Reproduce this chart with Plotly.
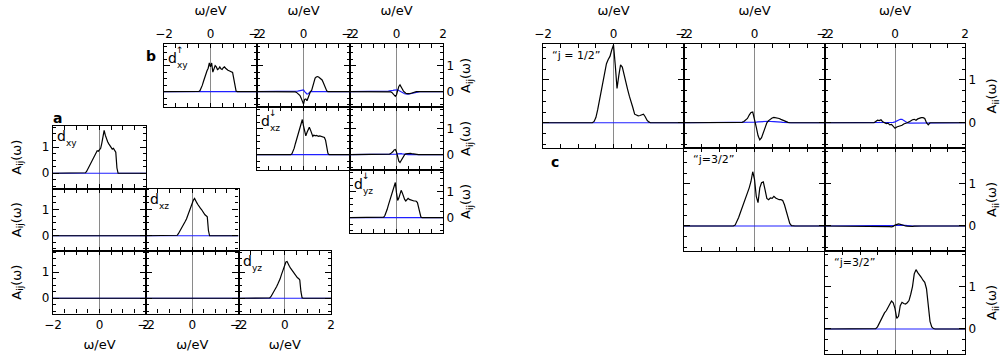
import plotly.graph_objects as go

# ---------------- data ----------------
OMEGA = [-2.0, -1.0, -0.8, -0.75, -0.7,
         -0.65, -0.6, -0.55, -0.5, -0.45,
         -0.4, -0.35, -0.3, -0.25, -0.2,
         -0.15, -0.1, -0.05, 0.0, 0.05,
         0.1, 0.15, 0.2, 0.25, 0.3,
         0.35, 0.4, 0.45, 0.5, 0.55,
         0.6, 0.65, 0.7, 0.75, 0.8,
         0.85, 0.9, 0.95, 1.0, 1.05,
         1.1, 1.15, 1.2, 1.5, 2.0]

ZERO = [0, 0, 0, 0, 0,
        0, 0, 0, 0, 0,
        0, 0, 0, 0, 0,
        0, 0, 0, 0, 0,
        0, 0, 0, 0, 0,
        0, 0, 0, 0, 0,
        0, 0, 0, 0, 0,
        0, 0, 0, 0, 0,
        0, 0, 0, 0, 0]

# panel a (t2g basis, no SOC)
A_DXY = [0, 0, 0, 0, 0,
         0.0, 0.02, 0.08, 0.17, 0.26,
         0.35, 0.44, 0.52, 0.60, 0.68,
         0.78, 0.86, 0.84, 0.92, 0.95,
         1.15, 1.40, 1.63, 1.45, 1.30,
         1.20, 1.12, 1.05, 0.98, 0.92,
         0.95, 0.85, 0.80, 0.20, 0.0,
         0, 0, 0, 0, 0,
         0, 0, 0, 0, 0]
A_DXZ = [0, 0, 0, 0, 0,
         0.02, 0.08, 0.15, 0.22, 0.30,
         0.38, 0.46, 0.55, 0.64, 0.76,
         0.90, 1.05, 1.20, 1.30, 1.36,
         1.42, 1.30, 1.25, 1.18, 1.10,
         1.05, 1.00, 0.92, 0.85, 0.80,
         0.76, 0.72, 0.20, 0.0, 0.0,
         0, 0, 0, 0, 0,
         0, 0, 0, 0, 0]
A_DYZ = [0, 0, 0, 0, 0,
         0.01, 0.06, 0.13, 0.21, 0.29,
         0.37, 0.45, 0.54, 0.63, 0.74,
         0.88, 1.02, 1.18, 1.25, 1.38,
         1.40, 1.28, 1.22, 1.15, 1.08,
         1.03, 0.98, 0.90, 0.84, 0.78,
         0.75, 0.70, 0.25, 0.02, 0.0,
         0, 0, 0, 0, 0,
         0, 0, 0, 0, 0]

# panel b (spin-resolved t2g basis)
B_11 = [0, 0, 0, 0, 0,
        0, 0, 0, 0.01, 0.04,
        0.12, 0.25, 0.40, 0.55, 0.68,
        0.80, 0.90, 1.10, 0.95, 1.10,
        0.75, 0.90, 1.00, 0.95, 0.85,
        0.88, 0.95, 0.88, 0.85, 0.92,
        0.95, 0.90, 0.85, 0.82, 0.80,
        0.78, 0.75, 0.74, 0.50, 0.15,
        0.02, 0, 0, 0, 0]
B_12 = [0, 0, 0, 0, 0,
        0, 0, 0, 0, 0,
        0.0, -0.01, -0.03, -0.06, -0.10,
        -0.15, -0.25, -0.38, -0.48, -0.30,
        -0.28, -0.35, -0.20, -0.08, 0.0,
        0.05, 0.20, 0.40, 0.52, 0.56,
        0.58, 0.56, 0.53, 0.50, 0.45,
        0.35, 0.22, 0.10, 0.03, 0.0,
        0, 0, 0, 0, 0]
B_12_IM = [0, 0, 0, 0, 0,
           0, 0, 0, 0, 0,
           0.0, 0.0, 0.01, 0.02, 0.03,
           0.04, 0.06, 0.08, 0.07, 0.0,
           -0.06, -0.09, -0.08, -0.03, 0.0,
           0, 0, 0, 0, 0,
           0, 0, 0, 0, 0,
           0, 0, 0, 0, 0,
           0, 0, 0, 0, 0]
B_13 = [0, 0, 0, 0, 0,
        0, 0, 0, 0, 0,
        0, 0, 0, -0.01, -0.03,
        -0.08, -0.15, -0.18, -0.12, 0.05,
        0.20, 0.26, 0.20, 0.10, 0.02,
        -0.03, -0.06, -0.08, -0.09, -0.08,
        -0.07, -0.05, -0.03, -0.02, -0.01,
        0, 0, 0, 0, 0,
        0, 0, 0, 0, 0]
B_13_IM = [0, 0, 0, 0, 0,
           0.0, 0.01, 0.01, 0.01, 0.02,
           0.02, 0.02, 0.03, 0.03, 0.04,
           0.05, 0.06, 0.07, 0.08, 0.07,
           0.04, 0.01, -0.02, -0.04, -0.06,
           -0.08, -0.09, -0.10, -0.10, -0.09,
           -0.08, -0.06, -0.04, -0.03, -0.02,
           -0.01, 0, 0, 0, 0,
           0, 0, 0, 0, 0]
B_22 = [0, 0, 0, 0, 0,
        0, 0, 0, 0.03, 0.12,
        0.25, 0.42, 0.58, 0.72, 0.85,
        0.98, 1.15, 1.35, 1.10, 0.90,
        0.72, 0.85, 0.98, 1.05, 0.95,
        0.80, 0.70, 0.75, 0.72, 0.74,
        0.72, 0.70, 0.72, 0.70, 0.68,
        0.67, 0.66, 0.55, 0.25, 0.05,
        0, 0, 0, 0, 0]
B_23 = [0, 0, 0, 0, 0,
        0, 0, 0, 0, 0,
        0, 0.01, 0.02, 0.04, 0.07,
        0.12, 0.18, 0.20, 0.10, -0.10,
        -0.25, -0.30, -0.22, -0.12, -0.04,
        0.0, 0.03, 0.04, 0.05, 0.05,
        0.05, 0.04, 0.03, 0.02, 0.01,
        0, 0, 0, 0, 0,
        0, 0, 0, 0, 0]
B_23_IM = [0, 0, 0, 0, 0,
           0, 0, 0, 0, 0,
           0, 0, 0, 0, 0,
           0, 0.01, 0.01, 0.02, 0.03,
           0.04, 0.04, 0.04, 0.03, 0.02,
           0.01, 0, 0, 0, 0,
           0, 0, 0, 0, 0,
           0, 0, 0, 0, 0,
           0, 0, 0, 0, 0]
B_33 = [0, 0, 0, 0, 0,
        0, 0, 0.02, 0.08, 0.18,
        0.32, 0.48, 0.62, 0.75, 0.88,
        1.00, 1.15, 1.35, 0.95, 0.66,
        0.75, 0.92, 1.05, 0.95, 0.80,
        0.70, 0.64, 0.68, 0.74, 0.70,
        0.68, 0.66, 0.65, 0.64, 0.64,
        0.63, 0.58, 0.35, 0.12, 0.02,
        0, 0, 0, 0, 0]

# panel c (j basis)
C_11 = [0, 0, 0, 0, 0,
        0, 0, 0.03, 0.12, 0.30,
        0.52, 0.75, 0.98, 1.20, 1.38,
        1.48, 1.55, 1.70, 1.82, 1.35,
        0.80, 1.10, 1.35, 1.30, 1.10,
        0.90, 0.78, 0.62, 0.50, 0.35,
        0.20, 0.17, 0.16, 0.17, 0.19,
        0.20, 0.14, 0.06, 0.02, 0.0,
        0, 0, 0, 0, 0]
C_12 = [0, 0, 0, 0, 0,
        0, 0, 0, 0, 0,
        0.0, 0.01, 0.03, 0.06, 0.10,
        0.18, 0.24, 0.25, 0.10, -0.10,
        -0.30, -0.40, -0.35, -0.22, -0.08,
        0.0, 0.05, 0.09, 0.11, 0.125,
        0.12, 0.11, 0.10, 0.08, 0.06,
        0.04, 0.02, 0.01, 0, 0,
        0, 0, 0, 0, 0]
C_12_IM = [0, 0, 0, 0, 0,
           0, 0, 0, 0, 0,
           0, 0, 0, 0, 0,
           0, 0, 0.005, 0.01, 0.015,
           0.02, 0.025, 0.03, 0.035, 0.035,
           0.035, 0.035, 0.03, 0.03, 0.03,
           0.025, 0.02, 0.02, 0.015, 0.01,
           0.005, 0, 0, 0, 0,
           0, 0, 0, 0, 0]
C_13 = [0, 0, 0, 0, 0,
        0, 0.0, 0.03, 0.06, 0.05,
        0.07, 0.02, 0.0, -0.02, -0.01,
        -0.05, -0.04, -0.08, -0.13, -0.10,
        -0.09, -0.07, -0.06, -0.03, -0.02,
        0.0, 0.02, 0.05, 0.07, 0.08,
        0.06, 0.09, 0.11, 0.12, 0.12,
        0.10, 0.0, -0.05, 0.0, 0.0,
        0, 0, 0, 0, 0]
C_13_IM = [0, 0, 0, 0, 0,
           0, 0, 0, 0, 0,
           0, 0, 0, 0, 0,
           0, 0, 0.01, 0.02, 0.04,
           0.06, 0.08, 0.08, 0.05, 0.02,
           0.0, -0.01, -0.01, 0, 0,
           0, 0, 0, 0, 0,
           0, 0, 0, 0, 0,
           0, 0, 0, 0, 0]
C_22 = [0, 0, 0, 0, 0,
        0, 0, 0.02, 0.10, 0.20,
        0.32, 0.43, 0.55, 0.66, 0.76,
        0.90, 1.05, 1.28, 1.10, 0.70,
        0.55, 0.90, 1.02, 1.04, 0.85,
        0.65, 0.62, 0.66, 0.65, 0.70,
        0.66, 0.64, 0.62, 0.62, 0.60,
        0.50, 0.35, 0.18, 0.06, 0.01,
        0, 0, 0, 0, 0]
C_23 = [0, 0, 0, 0, 0,
        0, 0, 0, 0, 0,
        0, 0, 0, -0.005, -0.01,
        -0.015, -0.02, -0.01, 0.02, 0.04,
        0.05, 0.04, 0.02, 0.01, 0.0,
        -0.005, -0.01, -0.01, -0.01, -0.005,
        0, 0, 0, 0, 0,
        0, 0, 0, 0, 0,
        0, 0, 0, 0, 0]
C_23_IM = [0, 0, 0, 0, 0,
           0, 0, 0, 0, 0,
           0, 0, 0, 0, 0,
           0, 0, 0, 0, 0.005,
           0.01, 0.015, 0.02, 0.02, 0.02,
           0.015, 0.01, 0.005, 0, 0,
           0, 0, 0, 0, 0,
           0, 0, 0, 0, 0,
           0, 0, 0, 0, 0]
C_33 = [0, 0, 0, 0, 0,
        0, 0, 0.01, 0.05, 0.13,
        0.22, 0.32, 0.38, 0.43, 0.50,
        0.60, 0.66, 0.62, 0.48, 0.25,
        0.30, 0.55, 0.63, 0.60, 0.59,
        0.62, 0.67, 0.82, 1.00, 1.30,
        1.40, 1.33, 1.28, 1.22, 1.15,
        1.10, 0.95, 0.55, 0.18, 0.05,
        0.01, 0, 0, 0, 0]

X_TICKS = [-2, 0, 2]
X_TICKTEXT = ["\u22122", "0", "2"]
Y_TICKS = [0, 1]
Y_TICKTEXT = ["0", "1"]

# ---------------- layout geometry (pixels) ----------------
W, H = 1001, 363
A_COLS = [(53, 146), (146, 238.5), (238.5, 331)]
A_ROWS = [(126, 188.5), (188.5, 251), (251, 313.5)]
B_COLS = [(164, 257), (257, 350), (350, 443)]
B_ROWS = [(44, 107), (107, 170), (170, 233)]
C_COLS = [(543, 684), (684, 825), (825, 965)]
C_ROWS = [(44, 148), (148, 251), (251, 354)]

# (cols, rows, row, col, black, blue, group)
panels = [
    (A_COLS, A_ROWS, 0, 0, A_DXY, ZERO, "a"),
    (A_COLS, A_ROWS, 1, 0, ZERO, ZERO, "a"),
    (A_COLS, A_ROWS, 1, 1, A_DXZ, ZERO, "a"),
    (A_COLS, A_ROWS, 2, 0, ZERO, ZERO, "a"),
    (A_COLS, A_ROWS, 2, 1, ZERO, ZERO, "a"),
    (A_COLS, A_ROWS, 2, 2, A_DYZ, ZERO, "a"),
    (B_COLS, B_ROWS, 0, 0, B_11, ZERO, "b"),
    (B_COLS, B_ROWS, 0, 1, B_12, B_12_IM, "b"),
    (B_COLS, B_ROWS, 0, 2, B_13, B_13_IM, "b"),
    (B_COLS, B_ROWS, 1, 1, B_22, ZERO, "b"),
    (B_COLS, B_ROWS, 1, 2, B_23, B_23_IM, "b"),
    (B_COLS, B_ROWS, 2, 2, B_33, ZERO, "b"),
    (C_COLS, C_ROWS, 0, 0, C_11, ZERO, "c"),
    (C_COLS, C_ROWS, 0, 1, C_12, C_12_IM, "c"),
    (C_COLS, C_ROWS, 0, 2, C_13, C_13_IM, "c"),
    (C_COLS, C_ROWS, 1, 1, C_22, ZERO, "c"),
    (C_COLS, C_ROWS, 1, 2, C_23, C_23_IM, "c"),
    (C_COLS, C_ROWS, 2, 2, C_33, ZERO, "c"),
]

FONT = "DejaVu Sans"
fig = go.Figure()
layout = {}

for i, (cols, rows, r, c, black, blue, grp) in enumerate(panels, start=1):
    sfx = "" if i == 1 else str(i)
    x0, x1 = cols[c]
    y0, y1 = rows[r]
    fig.add_trace(go.Scatter(x=OMEGA, y=blue, mode="lines",
                             line=dict(color="#1f1fff", width=1.2),
                             xaxis="x" + sfx, yaxis="y" + sfx, hoverinfo="skip"))
    fig.add_trace(go.Scatter(x=OMEGA, y=black, mode="lines",
                             line=dict(color="black", width=1.2),
                             xaxis="x" + sfx, yaxis="y" + sfx, hoverinfo="skip"))

    if grp == "a":
        show_x = (r == 2)
        xside = "bottom"
        show_y = (c == 0)
        yside = "left"
        ytitle = "A<sub>ij</sub>(\u03c9)"
        yr = [-0.58, 1.80]
        ystand = 17
    else:
        show_x = (r == 0)
        xside = "top"
        show_y = (c == 2)
        yside = "right"
        ytitle = "A<sub>ij</sub>(\u03c9)" if grp == "b" else "A<sub>ii</sub>(\u03c9)"
        yr = [-0.59, 1.83] if grp == "b" else [-0.59, 1.84]
        ystand = 7 if grp == "b" else 12

    xa = dict(
        domain=[x0 / W, x1 / W], anchor="y" + sfx, range=[-2, 2],
        side=xside, showline=True, linecolor="black", linewidth=1.3,
        mirror="allticks", ticks="inside", ticklen=4, tickwidth=1, tickcolor="black",
        tickmode="array", tickvals=X_TICKS, ticktext=X_TICKTEXT,
        minor=dict(tickmode="linear", tick0=0, dtick=0.5, ticks="inside",
                   ticklen=4, tickcolor="black", showgrid=False),
        showticklabels=show_x, showgrid=False, automargin=False,
        zeroline=True, zerolinecolor="#8a8a8a", zerolinewidth=1.2,
        tickfont=dict(family=FONT, size=12, color="black"),
    )
    if show_x:
        xa["title"] = dict(text="\u03c9/eV",
                           font=dict(family=FONT, size=13, color="black"), standoff=8)
    ya = dict(
        domain=[1 - y1 / H, 1 - y0 / H], anchor="x" + sfx, range=yr,
        side=yside, showline=True, linecolor="black", linewidth=1.3,
        mirror="allticks", ticks="inside", ticklen=6, tickwidth=1, tickcolor="black",
        tickmode="array", tickvals=Y_TICKS, ticktext=Y_TICKTEXT,
        minor=dict(tickmode="linear", tick0=0, dtick=0.25, ticks="inside",
                   ticklen=3, tickcolor="black", showgrid=False),
        showticklabels=show_y, showgrid=False, zeroline=False, automargin=False,
        tickfont=dict(family=FONT, size=12, color="black"),
    )
    if show_y:
        ya["title"] = dict(text=ytitle,
                           font=dict(family=FONT, size=13, color="black"), standoff=ystand)
    layout["xaxis" + sfx] = xa
    layout["yaxis" + sfx] = ya

annotations = []


def px_ann(text, x, y, size, xanchor="left", yanchor="top", bold=False):
    annotations.append(dict(
        text=("<b>%s</b>" % text) if bold else text,
        x=x / W, y=1 - y / H, xref="paper", yref="paper",
        xanchor=xanchor, yanchor=yanchor, showarrow=False,
        font=dict(family=FONT, size=size, color="black"),
    ))


# panel letters
px_ann("a", 51, 108, 14, bold=True)
px_ann("b", 144, 46, 14, bold=True)
px_ann("c", 549, 152, 14, bold=True)

# panel a orbital labels
for (cx, ry, sub) in [(A_COLS[0][0], A_ROWS[0][0], "xy"),
                      (A_COLS[1][0], A_ROWS[1][0], "xz"),
                      (A_COLS[2][0], A_ROWS[2][0], "yz")]:
    px_ann("d", cx + 2, ry + 0, 14)
    px_ann(sub, cx + 11, ry + 10, 9)

# panel b spin-orbital labels
for (cx, ry, arrow, sub) in [(B_COLS[0][0], B_ROWS[0][0], "\u2191", "xy"),
                             (B_COLS[1][0], B_ROWS[1][0], "\u2193", "xz"),
                             (B_COLS[2][0], B_ROWS[2][0], "\u2193", "yz")]:
    px_ann("d", cx + 2, ry + 4, 14)
    px_ann(arrow, cx + 10, ry - 1, 9)
    px_ann(sub, cx + 11, ry + 14, 9)

# panel c j labels
px_ann("\u201cj = 1/2\u201d", C_COLS[0][0] + 7, C_ROWS[0][0] + 3, 11)
px_ann("\u201cj=3/2\u201d", C_COLS[1][0] + 7, C_ROWS[1][0] + 3, 11)
px_ann("\u201cj=3/2\u201d", C_COLS[2][0] + 7, C_ROWS[2][0] + 3, 11)

fig.update_layout(
    width=W, height=H, margin=dict(l=0, r=0, t=0, b=0, autoexpand=False),
    paper_bgcolor="white", plot_bgcolor="white", showlegend=False,
    font=dict(family=FONT, size=12, color="black"),
    annotations=annotations,
    **layout,
)

fig.write_html("out.html")
